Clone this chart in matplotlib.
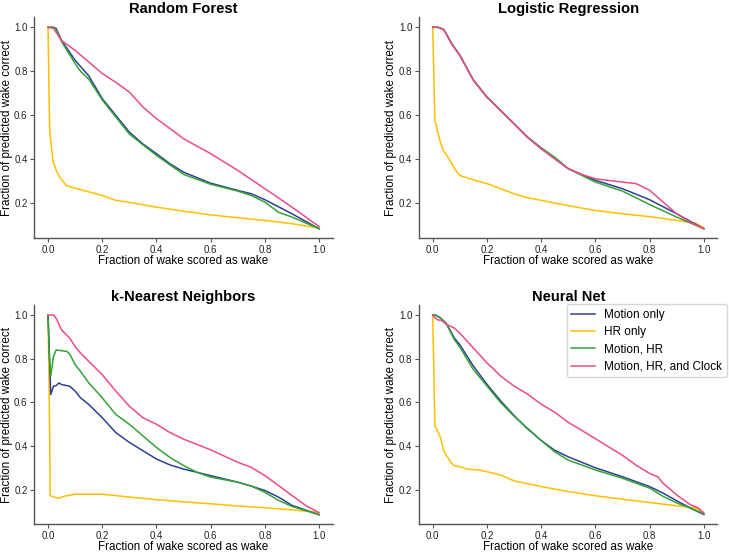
import matplotlib.pyplot as plt

plt.rcParams['font.family'] = ['Liberation Sans', 'DejaVu Sans']

# curve labels and colours
labels = ["Motion only", "HR only", "Motion, HR", "Motion, HR, and Clock"]
colors = ["#2d3f96", "#ffbf00", "#33a335", "#ef4a8a"]
titles = ["Random Forest", "Logistic Regression", "k-Nearest Neighbors", "Neural Net"]

# Random Forest
rf_motion_x = [0, 0.02, 0.03, 0.05, 0.1, 0.15, 0.2, 0.25, 0.3, 0.35, 0.4, 0.45, 0.5, 0.6, 0.7, 0.75, 0.8, 0.9, 1.0]
rf_motion_y = [1.0, 1.0, 0.995, 0.94, 0.85, 0.78, 0.676, 0.6, 0.524, 0.47, 0.426, 0.38, 0.342, 0.292, 0.259, 0.244, 0.217, 0.153, 0.085]
rf_hr_x = [0, 0.006, 0.018, 0.03, 0.043, 0.068, 0.14, 0.2, 0.25, 0.3, 0.4, 0.5, 0.6, 0.7, 0.8, 0.9, 1.0]
rf_hr_y = [1.0, 0.53, 0.395, 0.35, 0.32, 0.28, 0.256, 0.236, 0.214, 0.205, 0.183, 0.165, 0.148, 0.135, 0.123, 0.108, 0.088]
rf_mhr_x = [0, 0.02, 0.03, 0.05, 0.1, 0.12, 0.15, 0.2, 0.3, 0.4, 0.5, 0.6, 0.7, 0.75, 0.8, 0.85, 0.9, 1.0]
rf_mhr_y = [1.0, 1.0, 0.99, 0.935, 0.835, 0.80, 0.765, 0.67, 0.515, 0.418, 0.332, 0.287, 0.256, 0.236, 0.206, 0.16, 0.138, 0.085]
rf_clock_x = [0, 0.02, 0.05, 0.1, 0.15, 0.2, 0.25, 0.3, 0.35, 0.4, 0.45, 0.5, 0.6, 0.7, 0.8, 0.9, 1.0]
rf_clock_y = [1.0, 0.995, 0.94, 0.895, 0.843, 0.79, 0.75, 0.706, 0.638, 0.585, 0.54, 0.494, 0.426, 0.35, 0.267, 0.183, 0.095]

# Logistic Regression
lr_motion_x = [0, 0.02, 0.04, 0.05, 0.07, 0.1, 0.15, 0.2, 0.25, 0.3, 0.35, 0.4, 0.45, 0.5, 0.55, 0.6, 0.7, 0.8, 0.9, 1.0]
lr_motion_y = [1.0, 1.0, 0.99, 0.97, 0.925, 0.873, 0.76, 0.683, 0.623, 0.562, 0.5, 0.449, 0.403, 0.358, 0.33, 0.305, 0.267, 0.217, 0.153, 0.085]
lr_hr_x = [0, 0.008, 0.02, 0.03, 0.04, 0.06, 0.08, 0.1, 0.15, 0.2, 0.25, 0.3, 0.35, 0.4, 0.5, 0.6, 0.7, 0.8, 0.9, 0.97, 1.0]
lr_hr_y = [1.0, 0.577, 0.517, 0.47, 0.44, 0.403, 0.358, 0.327, 0.307, 0.29, 0.267, 0.244, 0.226, 0.214, 0.19, 0.168, 0.153, 0.14, 0.123, 0.11, 0.09]
lr_mhr_x = [0, 0.02, 0.04, 0.05, 0.07, 0.1, 0.15, 0.2, 0.25, 0.3, 0.35, 0.4, 0.45, 0.5, 0.6, 0.7, 0.8, 0.9, 1.0]
lr_mhr_y = [1.0, 1.0, 0.99, 0.97, 0.925, 0.873, 0.76, 0.683, 0.623, 0.562, 0.502, 0.453, 0.41, 0.358, 0.297, 0.256, 0.195, 0.138, 0.085]
lr_clock_x = [0, 0.02, 0.04, 0.05, 0.07, 0.1, 0.15, 0.2, 0.25, 0.3, 0.35, 0.4, 0.45, 0.5, 0.55, 0.6, 0.7, 0.75, 0.8, 0.85, 0.9, 0.95, 1.0]
lr_clock_y = [1.0, 1.0, 0.99, 0.97, 0.925, 0.873, 0.76, 0.683, 0.623, 0.562, 0.5, 0.449, 0.403, 0.358, 0.332, 0.312, 0.297, 0.29, 0.26, 0.206, 0.153, 0.115, 0.085]

# k-Nearest Neighbors
knn_motion_x = [0, 0.01, 0.02, 0.03, 0.04, 0.05, 0.08, 0.1, 0.12, 0.15, 0.2, 0.25, 0.3, 0.35, 0.4, 0.45, 0.5, 0.55, 0.6, 0.7, 0.75, 0.8, 0.85, 0.9, 1.0]
knn_motion_y = [1.0, 0.636, 0.674, 0.677, 0.689, 0.682, 0.674, 0.652, 0.621, 0.591, 0.53, 0.462, 0.417, 0.379, 0.341, 0.314, 0.295, 0.28, 0.265, 0.235, 0.217, 0.197, 0.167, 0.129, 0.086]
knn_hr_x = [0, 0.005, 0.008, 0.02, 0.04, 0.06, 0.1, 0.2, 0.3, 0.4, 0.5, 0.6, 0.7, 0.8, 0.9, 1.0]
knn_hr_y = [1.0, 0.568, 0.174, 0.167, 0.162, 0.171, 0.18, 0.18, 0.167, 0.155, 0.145, 0.136, 0.126, 0.118, 0.108, 0.097]
knn_mhr_x = [0, 0.005, 0.01, 0.02, 0.03, 0.05, 0.07, 0.08, 0.1, 0.12, 0.15, 0.2, 0.25, 0.3, 0.35, 0.4, 0.45, 0.5, 0.55, 0.6, 0.7, 0.75, 0.8, 0.85, 0.9, 1.0]
knn_mhr_y = [1.0, 0.81, 0.72, 0.81, 0.84, 0.837, 0.833, 0.822, 0.773, 0.742, 0.69, 0.621, 0.545, 0.5, 0.447, 0.394, 0.348, 0.311, 0.28, 0.258, 0.235, 0.217, 0.189, 0.152, 0.124, 0.086]
knn_clock_x = [0, 0.02, 0.03, 0.05, 0.08, 0.1, 0.12, 0.15, 0.2, 0.25, 0.3, 0.35, 0.4, 0.45, 0.5, 0.6, 0.7, 0.75, 0.8, 0.85, 0.9, 0.95, 1.0]
knn_clock_y = [1.0, 1.0, 0.985, 0.932, 0.894, 0.856, 0.826, 0.788, 0.727, 0.652, 0.583, 0.53, 0.5, 0.462, 0.432, 0.383, 0.326, 0.303, 0.265, 0.22, 0.174, 0.129, 0.095]

# Neural Net
nn_motion_x = [0, 0.01, 0.03, 0.05, 0.07, 0.08, 0.1, 0.15, 0.2, 0.25, 0.3, 0.35, 0.4, 0.45, 0.5, 0.6, 0.7, 0.8, 0.85, 0.9, 0.95, 1.0]
nn_motion_y = [1.0, 1.0, 0.985, 0.962, 0.917, 0.894, 0.864, 0.766, 0.683, 0.608, 0.54, 0.479, 0.426, 0.381, 0.351, 0.301, 0.26, 0.215, 0.185, 0.15, 0.117, 0.087]
nn_hr_x = [0, 0.008, 0.02, 0.03, 0.04, 0.05, 0.07, 0.08, 0.1, 0.13, 0.17, 0.2, 0.25, 0.3, 0.4, 0.5, 0.6, 0.7, 0.8, 0.9, 0.97, 1.0]
nn_hr_y = [1.0, 0.494, 0.464, 0.434, 0.381, 0.358, 0.321, 0.31, 0.306, 0.294, 0.291, 0.283, 0.268, 0.241, 0.215, 0.192, 0.173, 0.157, 0.142, 0.127, 0.117, 0.094]
nn_mhr_x = [0, 0.01, 0.03, 0.05, 0.08, 0.1, 0.15, 0.2, 0.25, 0.3, 0.4, 0.45, 0.5, 0.6, 0.7, 0.8, 0.85, 0.9, 0.95, 1.0]
nn_mhr_y = [1.0, 1.0, 0.985, 0.96, 0.887, 0.853, 0.75, 0.675, 0.6, 0.537, 0.426, 0.374, 0.336, 0.291, 0.253, 0.208, 0.17, 0.14, 0.117, 0.09]
nn_clock_x = [0, 0.01, 0.02, 0.03, 0.05, 0.08, 0.1, 0.15, 0.2, 0.22, 0.25, 0.3, 0.35, 0.4, 0.45, 0.5, 0.55, 0.6, 0.65, 0.7, 0.75, 0.8, 0.83, 0.85, 0.9, 0.95, 0.98, 1.0]
nn_clock_y = [1.0, 0.985, 0.977, 0.977, 0.958, 0.94, 0.917, 0.849, 0.781, 0.758, 0.721, 0.675, 0.638, 0.592, 0.555, 0.509, 0.472, 0.434, 0.396, 0.358, 0.313, 0.275, 0.26, 0.23, 0.177, 0.132, 0.117, 0.094]

curves = [
    [(rf_motion_x, rf_motion_y), (rf_hr_x, rf_hr_y), (rf_mhr_x, rf_mhr_y), (rf_clock_x, rf_clock_y)],
    [(lr_motion_x, lr_motion_y), (lr_hr_x, lr_hr_y), (lr_mhr_x, lr_mhr_y), (lr_clock_x, lr_clock_y)],
    [(knn_motion_x, knn_motion_y), (knn_hr_x, knn_hr_y), (knn_mhr_x, knn_mhr_y), (knn_clock_x, knn_clock_y)],
    [(nn_motion_x, nn_motion_y), (nn_hr_x, nn_hr_y), (nn_mhr_x, nn_mhr_y), (nn_clock_x, nn_clock_y)],
]

fig = plt.figure(figsize=(7.29, 5.54), dpi=100)
positions = [
    [0.0473, 0.570, 0.409, 0.399],
    [0.575, 0.570, 0.409, 0.399],
    [0.0473, 0.0535, 0.409, 0.396],
    [0.575, 0.0535, 0.409, 0.396],
]

for i in range(4):
    ax = fig.add_axes(positions[i])
    # draw HR only first so the others sit on top, like the reference
    for j in [1, 0, 2, 3]:
        x, y = curves[i][j]
        ax.plot(x, y, color=colors[j], lw=1.1, label=labels[j])
    ax.set_xlim(-0.05, 1.05)
    ax.set_ylim(0.042, 1.046)
    ax.set_xticks([0.0, 0.2, 0.4, 0.6, 0.8, 1.0])
    ax.set_yticks([0.2, 0.4, 0.6, 0.8, 1.0])
    ax.tick_params(labelsize=7, length=3, width=0.8, color='#555555', labelcolor='#222222', pad=2)
    ax.spines['top'].set_visible(False)
    ax.spines['right'].set_visible(False)
    for s in ['left', 'bottom']:
        ax.spines[s].set_color('#555555')
        ax.spines[s].set_linewidth(1.0)
    ax.set_xlabel('Fraction of wake scored as wake', fontsize=8.4, labelpad=0)
    ax.set_ylabel('Fraction of predicted wake correct', fontsize=8.4, labelpad=1)
    ax.set_title(titles[i], fontsize=10.6, fontweight='bold', pad=3)
    if i == 3:
        handles, labs = ax.get_legend_handles_labels()
        order = [labs.index(l) for l in labels]
        fig.legend([handles[k] for k in order], labels, loc='upper right',
                   bbox_to_anchor=(727 / 729, 1 - 304 / 554), fontsize=8.5,
                   borderaxespad=0, frameon=True, handlelength=2.0,
                   labelspacing=0.45)

fig.savefig('out.png', dpi=100)
